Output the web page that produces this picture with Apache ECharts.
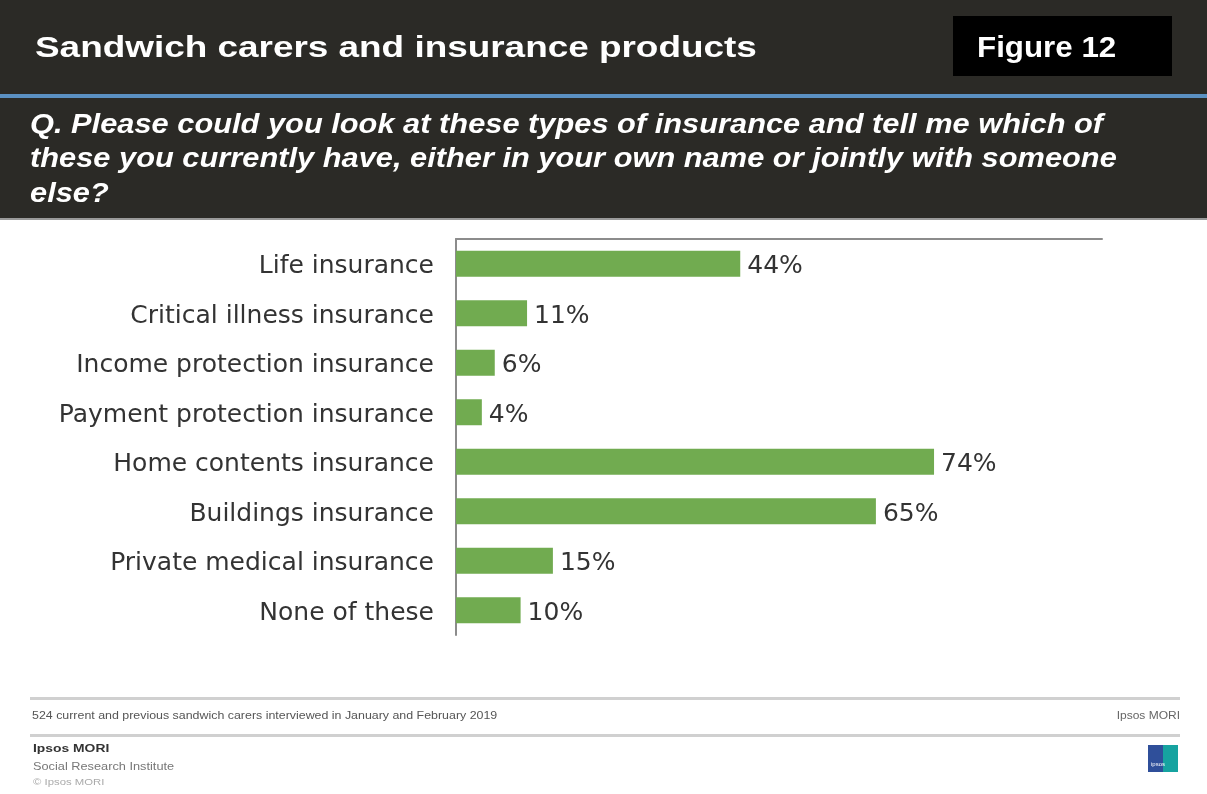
<!DOCTYPE html>
<html lang="en">
  <head>
    <meta charset="UTF-8" />
    <title>Sandwich carers and insurance products</title>
    <style>
      html, body { margin: 0; width: 100%; height: 100%; background: #fff; }
      #chart { width: 1207px; height: 794px; }
    </style>
    <script src="https://cdn.jsdelivr.net/npm/echarts@6/dist/echarts.min.js"></script>
  </head>
  <body>
    <div id="chart"></div>
    <script>
      const categories = [
        'Life insurance',
        'Critical illness insurance',
        'Income protection insurance',
        'Payment protection insurance',
        'Home contents insurance',
        'Buildings insurance',
        'Private medical insurance',
        'None of these'
      ]
      const values = [44, 11, 6, 4, 74, 65, 15, 10]

      const chart = echarts.init(document.getElementById('chart'))
      const dark = '#2b2a26'
      const arial = 'Arial, "Liberation Sans", sans-serif'
      const labelFont = '"DejaVu Sans", Arial, sans-serif'

      // the slide text is a little stretched sideways, so scaleX is used on it
      function txt(x, y, text, font, fill, scaleX, align) {
        return {
          type: 'text',
          x: x,
          y: y,
          scaleX: scaleX || 1,
          style: { text: text, font: font, fill: fill, align: align || 'left', verticalAlign: 'top' }
        }
      }

      // empty tall token pushes the text a few px down so it sits on the bar centre
      const nudge = {
        s: { lineHeight: 31, fontSize: 25 },
        a: { verticalAlign: 'bottom', lineHeight: 25, fontSize: 25, fontFamily: labelFont, color: '#333' }
      }

      const options = {
        animation: false,
        backgroundColor: '#fff',
        grid: { left: 456, right: 105, top: 239, height: 396 },
        xAxis: {
          type: 'value',
          min: 0,
          max: 100,
          position: 'top',
          axisLine: { show: true, lineStyle: { color: '#8c8c8c', width: 2 } },
          axisTick: { show: false },
          axisLabel: { show: false },
          splitLine: { show: false }
        },
        yAxis: {
          type: 'category',
          inverse: true,
          data: categories,
          axisLine: { show: true, lineStyle: { color: '#8c8c8c', width: 2 } },
          axisTick: { show: false },
          axisLabel: {
            margin: 22,
            fontFamily: labelFont,
            fontSize: 25,
            color: '#333',
            formatter: v => '{s|}{a|' + v + '}',
            rich: nudge
          }
        },
        series: [
          {
            type: 'bar',
            data: values,
            barWidth: 26,
            itemStyle: { color: '#71ab50' },
            label: {
              show: true,
              position: 'right',
              distance: 7,
              offset: [0, 3],
              formatter: '{c}%',
              fontFamily: labelFont,
              fontSize: 25,
              color: '#333'
            }
          }
        ],
        graphic: [
          // header band
          { type: 'rect', left: 0, top: 0, shape: { width: 1207, height: 220 }, style: { fill: dark } },
          { type: 'rect', left: 0, top: 94, shape: { width: 1207, height: 4 }, style: { fill: '#5b90c2' } },
          { type: 'rect', left: 0, top: 218, shape: { width: 1207, height: 2 }, style: { fill: '#9a9a9a' } },
          { type: 'rect', left: 953, top: 16, shape: { width: 219, height: 60 }, style: { fill: '#000' } },
          txt(35, 34, 'Sandwich carers and insurance products', 'bold 30px ' + arial, '#fff', 1.23),
          txt(977, 34, 'Figure 12', 'bold 29px ' + arial, '#fff', 1.08),
          {
            type: 'text',
            x: 30,
            y: 108,
            scaleX: 1.1,
            style: {
              text: 'Q. Please could you look at these types of insurance and tell me which of\nthese you currently have, either in your own name or jointly with someone\nelse?',
              fill: '#fff',
              font: 'italic bold 28px ' + arial,
              lineHeight: 34.5,
              verticalAlign: 'top'
            }
          },
          // footer
          { type: 'rect', left: 30, top: 697, shape: { width: 1150, height: 3 }, style: { fill: '#d0d0d0' } },
          { type: 'rect', left: 30, top: 734, shape: { width: 1150, height: 3 }, style: { fill: '#d0d0d0' } },
          txt(32, 711, '524 current and previous sandwich carers interviewed in January and February 2019', '10px ' + arial, '#555', 1.24),
          txt(1180, 711, 'Ipsos MORI', '10px ' + arial, '#666', 1.2, 'right'),
          txt(33, 743, 'Ipsos MORI', 'bold 11px ' + arial, '#333', 1.26),
          txt(33, 761, 'Social Research Institute', '11px ' + arial, '#777', 1.16),
          txt(33, 778, '© Ipsos MORI', '9px ' + arial, '#aaa', 1.26),
          { type: 'rect', left: 1148, top: 745, shape: { width: 30, height: 27 }, style: { fill: '#2f4f9a' } },
          { type: 'rect', left: 1163, top: 745, shape: { width: 15, height: 27 }, style: { fill: '#16a3a0' } },
          txt(1151, 761, 'ipsos', '6px ' + arial, '#fff', 1)
        ]
      }
      chart.setOption(options)
    </script>
  </body>
</html>
